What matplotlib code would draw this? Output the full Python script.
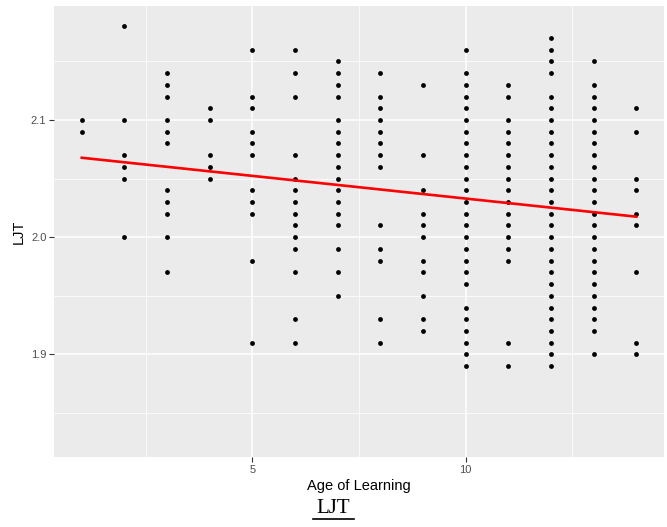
import numpy as np
import matplotlib.pyplot as plt
from matplotlib.ticker import MultipleLocator

plt.rcParams['font.family'] = ['Liberation Sans', 'DejaVu Sans']

# LJT scores per age of learning
age = list(range(1, 15))
ljt = [
    [2.10, 2.09],
    [2.18, 2.10, 2.07, 2.06, 2.05, 2.00],
    [2.14, 2.13, 2.12, 2.10, 2.09, 2.08, 2.04, 2.03, 2.02, 2.00, 1.97],
    [2.11, 2.10, 2.07, 2.06, 2.05],
    [2.16, 2.12, 2.11, 2.09, 2.08, 2.07, 2.04, 2.03, 2.02, 1.98, 1.91],
    [2.16, 2.14, 2.12, 2.07, 2.05, 2.04, 2.03, 2.02, 2.01, 2.00, 1.99, 1.97, 1.93, 1.91],
    [2.15, 2.14, 2.13, 2.12, 2.10, 2.09, 2.08, 2.07, 2.06, 2.05, 2.04, 2.03, 2.02, 2.01,
     1.99, 1.97, 1.95],
    [2.14, 2.12, 2.11, 2.10, 2.09, 2.08, 2.07, 2.06, 2.01, 1.99, 1.98, 1.93, 1.91],
    [2.13, 2.07, 2.04, 2.02, 2.01, 2.00, 1.98, 1.97, 1.95, 1.93, 1.92],
    [2.16, 2.14, 2.13, 2.12, 2.11, 2.10, 2.09, 2.08, 2.07, 2.06, 2.05, 2.04, 2.03, 2.02,
     2.01, 2.00, 1.99, 1.98, 1.97, 1.96, 1.94, 1.93, 1.92, 1.91, 1.90, 1.89],
    [2.13, 2.12, 2.10, 2.09, 2.08, 2.07, 2.06, 2.05, 2.04, 2.03, 2.02, 2.01, 2.00, 1.99,
     1.98, 1.91, 1.89],
    [2.17, 2.16, 2.15, 2.14, 2.12, 2.11, 2.10, 2.09, 2.08, 2.07, 2.06, 2.05, 2.04, 2.03,
     2.02, 2.01, 2.00, 1.99, 1.98, 1.97, 1.96, 1.95, 1.94, 1.93, 1.92, 1.91, 1.90, 1.89],
    [2.15, 2.13, 2.12, 2.11, 2.10, 2.09, 2.08, 2.07, 2.06, 2.05, 2.04, 2.03, 2.02, 2.01,
     2.00, 1.99, 1.98, 1.97, 1.96, 1.95, 1.94, 1.93, 1.92, 1.90],
    [2.11, 2.09, 2.05, 2.04, 2.02, 2.01, 1.97, 1.91, 1.90],
]

# fitted regression line (end points)
fit_x = [1, 14]
fit_y = [2.0678, 2.0175]

xs = np.concatenate([[a] * len(v) for a, v in zip(age, ljt)])
ys = np.concatenate(ljt)

fig = plt.figure(figsize=(6.67, 5.27), dpi=100)
ax = fig.add_axes([0.081, 0.133, 0.9145, 0.8556])
ax.set_facecolor('#EBEBEB')
for s in ax.spines.values():
    s.set_visible(False)

ax.set_xlim(0.35, 14.65)
ax.set_ylim(1.8125, 2.1973)
ax.xaxis.set_minor_locator(MultipleLocator(2.5))
ax.set_xticks([5, 10])
ax.set_yticks([1.9, 2.0, 2.1])
ax.set_yticklabels(['1.9', '2.0', '2.1'])
ax.yaxis.set_minor_locator(MultipleLocator(0.05))
ax.grid(which='major', color='white', lw=1.1)
ax.grid(which='minor', color='white', lw=0.55)
ax.set_axisbelow(True)
ax.tick_params(which='major', color='#333333', length=3.5, width=0.8,
               labelsize=8, labelcolor='#4D4D4D', pad=2)
ax.tick_params(which='minor', length=0)

ax.scatter(xs, ys, s=12, color='black', zorder=3, linewidths=0)
ax.plot(fit_x, fit_y, color='#FF0000', lw=1.9, zorder=4)

ax.set_xlabel('Age of Learning', fontsize=10.5, labelpad=3)
ax.set_ylabel('LJT', fontsize=10.5, labelpad=4)

# caption under the chart, underlined
fig.text(0.5, 0.026, 'LJT', fontsize=15, family='Liberation Serif',
         ha='center', va='baseline')
fig.add_artist(plt.Line2D([0.469, 0.531], [0.016, 0.016], color='black', lw=1.2))

fig.savefig('out.png', dpi=100)
